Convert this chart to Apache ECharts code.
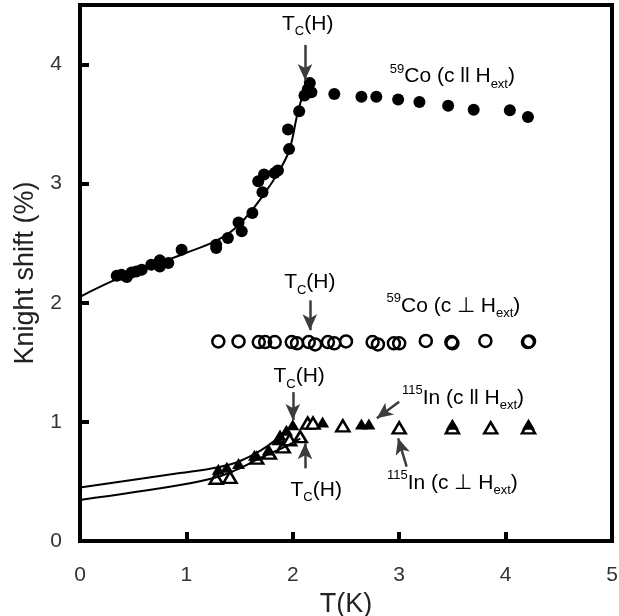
<!DOCTYPE html>
<html>
<head>
<meta charset="utf-8">
<script src="https://cdn.jsdelivr.net/npm/echarts@6/dist/echarts.min.js"></script>
<style>
  html, body { margin: 0; padding: 0; background: #fff; }
  #chart { width: 619px; height: 616px; }
</style>
</head>
<body>
<div id="chart"></div>
<script>
// 59Co, c || Hext (filled circles)
var coParT = [0.345, 0.39, 0.44, 0.485, 0.53, 0.58, 0.67, 0.75, 0.75, 0.83, 0.955, 1.28, 1.28, 1.39, 1.49, 1.52, 1.62, 1.715, 1.675, 1.73, 1.83, 1.86, 1.965, 1.955, 2.06, 2.11, 2.16, 2.14, 2.175, 2.39, 2.645, 2.785, 2.99, 3.19, 3.46, 3.70, 4.04, 4.21];
var coParK = [2.227, 2.235, 2.216, 2.255, 2.263, 2.277, 2.319, 2.356, 2.305, 2.333, 2.445, 2.487, 2.46, 2.543, 2.675, 2.6, 2.754, 2.927, 3.02, 3.076, 3.09, 3.11, 3.29, 3.454, 3.608, 3.74, 3.846, 3.79, 3.767, 3.753, 3.73, 3.73, 3.706, 3.686, 3.655, 3.62, 3.616, 3.56];
// 59Co, c ⊥ Hext (open circles)
var coPerpT = [1.30, 1.49, 1.68, 1.74, 1.83, 1.99, 2.04, 2.15, 2.21, 2.33, 2.39, 2.50, 2.75, 2.80, 2.95, 3.00, 3.25, 3.49, 3.50, 3.81, 4.21, 4.22];
var coPerpK = [1.675, 1.675, 1.67, 1.67, 1.67, 1.67, 1.66, 1.67, 1.65, 1.67, 1.66, 1.675, 1.67, 1.65, 1.66, 1.66, 1.68, 1.67, 1.66, 1.68, 1.67, 1.675];
// 115In, c || Hext (filled triangles)
var inParT = [1.30, 1.38, 1.49, 1.64, 1.77, 1.86, 1.88, 1.94, 2.00, 2.28, 2.645, 2.715, 3.50, 4.215];
var inParK = [0.602, 0.619, 0.65, 0.72, 0.765, 0.85, 0.89, 0.93, 0.975, 1.0, 0.983, 0.983, 0.98, 0.98];
// 115In, c ⊥ Hext (open triangles)
var inPerpT = [1.28, 1.41, 1.66, 1.78, 1.91, 1.97, 2.07, 2.14, 2.19, 2.47, 3.00, 3.50, 3.86, 4.215];
var inPerpK = [0.527, 0.535, 0.695, 0.737, 0.79, 0.85, 0.876, 0.99, 0.99, 0.967, 0.95, 0.95, 0.95, 0.95];
// guide curves
var coFitT = [0, 0.35, 0.7, 1.0, 1.3, 1.5, 1.72, 1.88, 1.97, 2.05, 2.12];
var coFitK = [2.05, 2.2, 2.32, 2.42, 2.53, 2.66, 2.9, 3.12, 3.29, 3.61, 3.81];
var inParFitT = [0, 0.94, 1.3, 1.5, 1.7, 1.87, 2.02];
var inParFitK = [0.45, 0.57, 0.62, 0.67, 0.76, 0.87, 0.98];
var inPerpFitT = [0, 0.94, 1.3, 1.5, 1.7, 1.9, 2.07];
var inPerpFitK = [0.345, 0.47, 0.54, 0.61, 0.70, 0.78, 0.86];
// tick labels
var xTicks = [0, 1, 2, 3, 4, 5];
var yTicks = [0, 1, 2, 3, 4];

function pairs(a, b) {
    return a.map(function (v, i) { return [v, b[i]]; });
}

var font = "'Liberation Sans', Arial, sans-serif";
var chart = echarts.init(document.getElementById('chart'));

var arrows = [
    [[2.115, 4.165], [2.115, 3.87]],
    [[2.16, 2.02], [2.16, 1.77]],
    [[2.0, 1.25], [2.0, 1.016]],
    [[2.115, 0.61], [2.115, 0.82]],
    [[3.0, 1.17], [2.79, 1.03]],
    [[3.07, 0.624], [2.99, 0.862]]
];

var option = {
    animation: false,
    backgroundColor: '#fff',
    grid: {
        left: 80, right: 7, top: 5, bottom: 75,
        outerBoundsMode: 'none', containLabel: false,
        show: true, borderColor: '#000', borderWidth: 4
    },
    xAxis: {
        type: 'value', min: 0, max: 5, interval: 1,
        name: 'T(K)', nameLocation: 'middle', nameGap: 45,
        nameTextStyle: { fontSize: 27, color: '#222', fontFamily: font },
        axisLine: { lineStyle: { color: '#000', width: 4 } },
        axisTick: { inside: true, length: 9, lineStyle: { color: '#000', width: 4 } },
        axisLabel: {
            fontSize: 21, color: '#333', fontFamily: font, margin: 24,
            formatter: function (v) { return xTicks.indexOf(v) >= 0 ? String(v) : ''; }
        },
        splitLine: { show: false }
    },
    yAxis: {
        type: 'value', min: 0, max: 4.5, interval: 1,
        name: 'Knight shift (%)', nameLocation: 'middle', nameGap: 37,
        nameTextStyle: { fontSize: 27, color: '#222', fontFamily: font },
        axisLine: { lineStyle: { color: '#000', width: 4 } },
        axisTick: { inside: true, length: 9, lineStyle: { color: '#000', width: 4 } },
        axisLabel: {
            fontSize: 21, color: '#333', fontFamily: font, margin: 18,
            formatter: function (v) { return yTicks.indexOf(v) >= 0 ? String(v) : ''; }
        },
        splitLine: { show: false }
    },
    series: [
        {
            type: 'line', data: pairs(coFitT, coFitK), smooth: 0.4, symbol: 'none',
            lineStyle: { color: '#000', width: 2 }
        },
        {
            type: 'line', data: pairs(inParFitT, inParFitK), smooth: 0.4, symbol: 'none',
            lineStyle: { color: '#000', width: 2 }
        },
        {
            type: 'line', data: pairs(inPerpFitT, inPerpFitK), smooth: 0.4, symbol: 'none',
            lineStyle: { color: '#000', width: 2 },
            markLine: {
                silent: true, symbol: ['none', 'arrow'], symbolSize: [11, 16],
                label: { show: false },
                lineStyle: { color: '#3c3c3c', width: 2.5, type: 'solid', opacity: 1 },
                data: arrows.map(function (a) {
                    return [{ coord: a[0] }, { coord: a[1] }];
                })
            }
        },
        {
            type: 'scatter', data: pairs(coPerpT, coPerpK), symbol: 'circle', symbolSize: 12,
            itemStyle: { color: 'rgba(255,255,255,0)', borderColor: '#000', borderWidth: 2.5, opacity: 1 }
        },
        {
            type: 'scatter', data: pairs(coParT, coParK), symbol: 'circle', symbolSize: 12,
            itemStyle: { color: '#000', opacity: 1 }
        },
        {
            type: 'scatter', data: pairs(inPerpT, inPerpK), symbol: 'triangle', symbolSize: [13, 11],
            itemStyle: { color: '#fff', borderColor: '#000', borderWidth: 2.5, opacity: 1 }
        },
        {
            type: 'scatter', data: pairs(inParT, inParK), symbol: 'triangle', symbolSize: [13, 11],
            itemStyle: { color: '#000', opacity: 1 }
        }
    ]
};
chart.setOption(option);

// annotation texts (centres in data coordinates)
var rich = {
    t: { fontSize: 21, lineHeight: 28, color: '#222', fontFamily: font, verticalAlign: 'middle' },
    sub: { fontSize: 13, lineHeight: 14, color: '#222', fontFamily: font, verticalAlign: 'bottom' },
    sup: { fontSize: 13, lineHeight: 14, color: '#222', fontFamily: font, verticalAlign: 'top' }
};
var tcText = '{t|T}{sub|C}{t|(H)}';
var annotations = [
    [2.14, 4.34, tcText],
    [3.50, 3.90, '{sup|59}{t|Co (c ll H}{sub|ext}{t|)}'],
    [2.16, 2.17, tcText],
    [3.51, 1.97, '{sup|59}{t|Co (c \u22a5 H}{sub|ext}{t|)}'],
    [2.06, 1.38, tcText],
    [3.60, 1.20, '{sup|115}{t|In (c ll H}{sub|ext}{t|)}'],
    [2.22, 0.43, tcText],
    [3.50, 0.487, '{sup|115}{t|In (c \u22a5 H}{sub|ext}{t|)}']
];
chart.setOption({
    graphic: annotations.map(function (a) {
        var p = chart.convertToPixel({ gridIndex: 0 }, [a[0], a[1]]);
        return {
            type: 'text', x: p[0], y: p[1], silent: true,
            style: { text: a[2], rich: rich, align: 'center', verticalAlign: 'middle' }
        };
    })
});
</script>
</body>
</html>
